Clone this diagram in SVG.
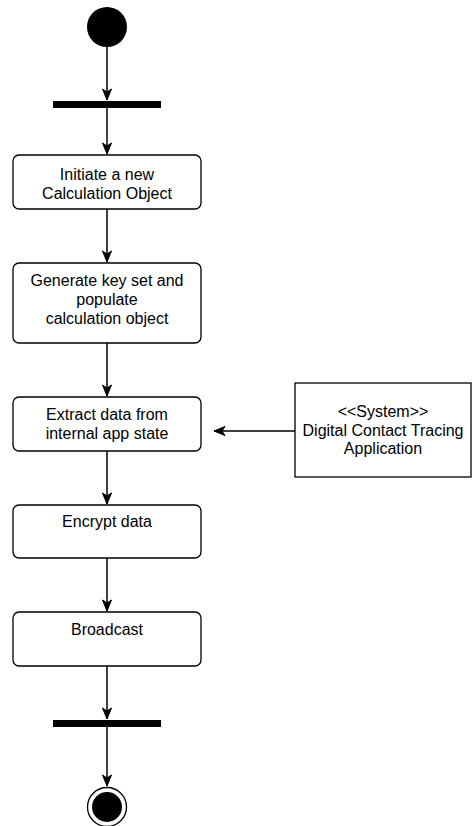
<svg xmlns="http://www.w3.org/2000/svg" width="473" height="826" viewBox="0 0 473 826">
  <style>
    .act { fill: #ffffff; stroke: #000000; stroke-width: 1.3; }
    .bar { fill: #000000; stroke: none; }
    .lbl { font-family: "Liberation Sans", Arial, sans-serif; font-size: 16px; fill: #000000; text-anchor: middle; }
    .flow { fill: none; stroke: #000000; stroke-width: 1.5; }
  </style>
  <defs>
    <marker id="arrow" markerUnits="userSpaceOnUse" markerWidth="14" markerHeight="14" viewBox="0 0 14 14" refX="12" refY="7" orient="auto">
      <path d="M1,2.5 L12,7 L1,11.5 L4,7 Z" fill="#000000" stroke="#000000" stroke-width="1"/>
    </marker>
  </defs>
  <rect width="473" height="826" fill="#ffffff"/>

  <g id="connectors">
    <line class="flow" x1="107" y1="47" x2="107" y2="100" marker-end="url(#arrow)"/>
    <line class="flow" x1="107" y1="108" x2="107" y2="154" marker-end="url(#arrow)"/>
    <line class="flow" x1="107" y1="209" x2="107" y2="262" marker-end="url(#arrow)"/>
    <line class="flow" x1="107" y1="343" x2="107" y2="396" marker-end="url(#arrow)"/>
    <line class="flow" x1="107" y1="451" x2="107" y2="504" marker-end="url(#arrow)"/>
    <line class="flow" x1="107" y1="558" x2="107" y2="611" marker-end="url(#arrow)"/>
    <line class="flow" x1="107" y1="666" x2="107" y2="719" marker-end="url(#arrow)"/>
    <line class="flow" x1="107" y1="727" x2="107" y2="786" marker-end="url(#arrow)"/>
    <line class="flow" x1="295" y1="431" x2="214" y2="431" marker-end="url(#arrow)"/>
  </g>

  <g id="start">
    <circle cx="107" cy="27" r="20" fill="#000000"/>
  </g>

  <g id="fork">
    <rect class="bar" x="53" y="101" width="108" height="7"/>
  </g>

  <g id="initiate">
    <rect class="act" x="13" y="155" width="188" height="54" rx="6"/>
    <text class="lbl" x="107" y="180">Initiate a new</text>
    <text class="lbl" x="107" y="199">Calculation Object</text>
  </g>

  <g id="generate">
    <rect class="act" x="13" y="263" width="188" height="80" rx="6"/>
    <text class="lbl" x="107" y="286">Generate key set and</text>
    <text class="lbl" x="107" y="305">populate</text>
    <text class="lbl" x="107" y="324">calculation object</text>
  </g>

  <g id="extract">
    <rect class="act" x="13" y="397" width="188" height="54" rx="6"/>
    <text class="lbl" x="107" y="420">Extract data from</text>
    <text class="lbl" x="107" y="439">internal app state</text>
  </g>

  <g id="system">
    <rect class="act" x="295" y="383" width="176" height="94"/>
    <text class="lbl" x="383" y="417">&lt;&lt;System&gt;&gt;</text>
    <text class="lbl" x="383" y="436">Digital Contact Tracing</text>
    <text class="lbl" x="383" y="454">Application</text>
  </g>

  <g id="encrypt">
    <rect class="act" x="13" y="505" width="188" height="53" rx="6"/>
    <text class="lbl" x="107" y="527">Encrypt data</text>
  </g>

  <g id="broadcast">
    <rect class="act" x="13" y="612" width="188" height="54" rx="6"/>
    <text class="lbl" x="107" y="635">Broadcast</text>
  </g>

  <g id="join">
    <rect class="bar" x="53" y="720" width="108" height="7"/>
  </g>

  <g id="end">
    <circle cx="107" cy="807" r="19.5" fill="#ffffff" stroke="#000000" stroke-width="1.3"/>
    <circle cx="107" cy="807" r="15" fill="#000000"/>
  </g>
</svg>
